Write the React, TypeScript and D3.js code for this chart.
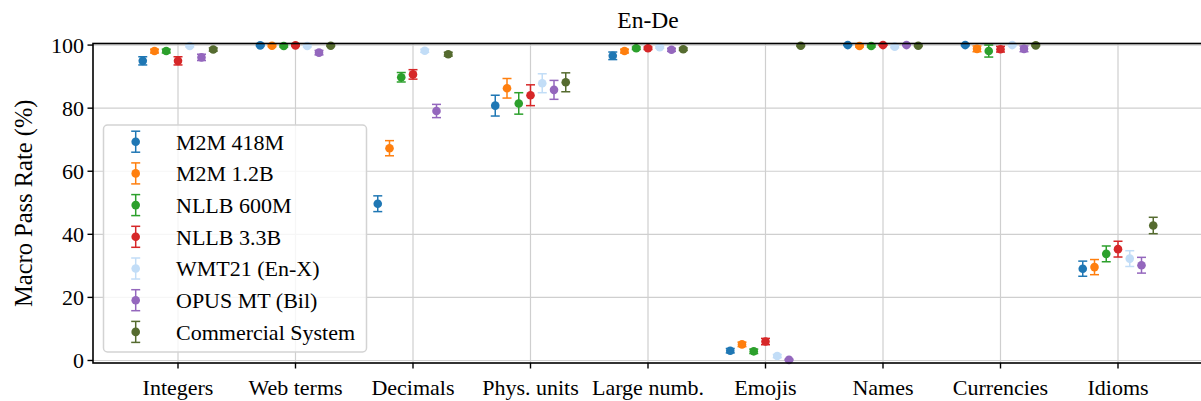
import React from "react";
import * as d3 from "d3";

const categories = ["Integers", "Web terms", "Decimals", "Phys. units", "Large numb.", "Emojis", "Names", "Currencies", "Idioms"];
const seriesNames = ["M2M 418M", "M2M 1.2B", "NLLB 600M", "NLLB 3.3B", "WMT21 (En-X)", "OPUS MT (Bil)", "Commercial System"];
const seriesColors = ["#1f77b4", "#ff7f0e", "#2ca02c", "#d62728", "#c2ddf7", "#9467bd", "#556b2f"];

const m2m418 = [95.0, 99.9, 49.7, 80.8, 96.6, 3.1, 100, 100, 29.1];
const m2m418Err = [1.3, 0.2, 2.5, 3.3, 1.2, 0.7, 0.1, 0.2, 2.4];
const m2m12 = [98.1, 99.8, 67.3, 86.3, 98.1, 5.1, 99.7, 98.8, 29.6];
const m2m12Err = [0.6, 0.3, 2.4, 3.1, 0.6, 0.7, 0.3, 0.9, 2.4];
const nllb600 = [98.1, 99.7, 89.8, 81.5, 99.0, 2.9, 99.7, 98.1, 33.8];
const nllb600Err = [0.6, 0.3, 1.5, 3.4, 0.4, 0.7, 0.3, 1.9, 2.5];
const nllb33 = [95.0, 99.9, 90.7, 84.1, 99.0, 6.0, 100, 98.7, 35.3];
const nllb33Err = [1.3, 0.2, 1.5, 3.3, 0.4, 1.0, 0.1, 0.9, 2.5];
const wmt21 = [99.7, 99.7, 98.2, 87.9, 99.3, 1.4, 99.5, 100, 32.3];
const wmt21Err = [0.3, 0.3, 0.5, 3.0, 0.3, 0.5, 0.3, 0.2, 2.5];
const opus = [96.1, 97.6, 79.1, 85.8, 98.5, 0.2, 100, 98.8, 30.2];
const opusErr = [1.0, 0.7, 2.1, 3.0, 0.5, 0.2, 0.1, 0.9, 2.5];
const commercial = [98.6, 99.8, 97.1, 88.2, 98.7, 99.8, 99.8, 99.9, 42.8];
const commercialErr = [0.5, 0.2, 0.6, 3.0, 0.4, 0.2, 0.2, 0.2, 2.6];

const yTicks = [0, 20, 40, 60, 80, 100];

const seriesValues = [m2m418, m2m12, nllb600, nllb33, wmt21, opus, commercial];
const seriesErrors = [m2m418Err, m2m12Err, nllb600Err, nllb33Err, wmt21Err, opusErr, commercialErr];

const W = 1201;
const H = 401;
const L = 93;
const R = 1203;
const T = 43.5;
const B = 363;
const FONT = "'Liberation Serif', 'Times New Roman', serif";

export default function App() {
  const x = d3.scaleLinear().domain([-0.7234, 8.7234]).range([L, R]);
  const y = d3.scaleLinear().domain([-0.8, 100.5]).range([B, T]);
  const offset = 0.1;
  const r = 4.3;
  const cap = 4.5;
  const gridColor = "#cfcfcf";

  const legX = 103.5;
  const legY = 125;
  const legW = 263;
  const legH = 227;
  const legRow = 31.7;

  return (
    <svg width={W} height={H} style={{ position: "absolute", left: 0, top: 0, background: "#fff" }} fontFamily={FONT}>
      <rect x={0} y={0} width={W} height={H} fill="#fff" />
      {/* gridlines */}
      {categories.map((c, i) => (
        <line key={"gx" + c} x1={x(i)} x2={x(i)} y1={T} y2={B} stroke={gridColor} strokeWidth={1.2} />
      ))}
      {yTicks.map((t) => (
        <line key={"gy" + t} x1={L} x2={R} y1={y(t)} y2={y(t)} stroke={gridColor} strokeWidth={1.2} />
      ))}
      {/* series */}
      {seriesValues.map((vals, s) => (
        <g key={seriesNames[s]} stroke={seriesColors[s]} fill={seriesColors[s]}>
          {vals.map((v, i) => {
            const cx = x(i + (s - 3) * offset);
            const e = seriesErrors[s][i];
            const y1 = y(v - e);
            const y2 = y(v + e);
            return (
              <g key={i}>
                <line x1={cx} x2={cx} y1={y1} y2={y2} strokeWidth={1.5} />
                <line x1={cx - cap} x2={cx + cap} y1={y1} y2={y1} strokeWidth={1.5} />
                <line x1={cx - cap} x2={cx + cap} y1={y2} y2={y2} strokeWidth={1.5} />
                <circle cx={cx} cy={y(v)} r={r} stroke="none" />
              </g>
            );
          })}
        </g>
      ))}
      {/* spines */}
      <rect x={L} y={T} width={R - L} height={B - T} fill="none" stroke="#000" strokeWidth={1.6} />
      {/* y ticks */}
      {yTicks.map((t) => (
        <g key={"yt" + t}>
          <line x1={L - 5.5} x2={L} y1={y(t)} y2={y(t)} stroke="#000" strokeWidth={1.4} />
          <text x={L - 9} y={y(t)} dy="0.34em" textAnchor="end" fontSize={22} fill="#000">
            {t}
          </text>
        </g>
      ))}
      {/* x ticks */}
      {categories.map((c, i) => (
        <g key={"xt" + c}>
          <line x1={x(i)} x2={x(i)} y1={B} y2={B + 5.5} stroke="#000" strokeWidth={1.4} />
          <text x={x(i)} y={394.5} textAnchor="middle" fontSize={22} fill="#000">
            {c}
          </text>
        </g>
      ))}
      {/* title */}
      <text x={(L + R) / 2} y={28} textAnchor="middle" fontSize={23.5} fill="#000">
        En-De
      </text>
      {/* y label */}
      <text transform={`translate(32,${(T + B) / 2}) rotate(-90)`} textAnchor="middle" fontSize={24.5} fill="#000">
        Macro Pass Rate (%)
      </text>
      {/* legend */}
      <rect x={legX} y={legY} width={legW} height={legH} rx={4} ry={4} fill="#fff" fillOpacity={0.8} stroke="#d3d3d3" strokeWidth={1.5} />
      {seriesNames.map((n, s) => {
        const cy = 141.7 + s * legRow;
        const mx = 135.7;
        return (
          <g key={"lg" + n}>
            <g stroke={seriesColors[s]} fill={seriesColors[s]}>
              <line x1={mx} x2={mx} y1={cy - 10.5} y2={cy + 10.5} strokeWidth={1.5} />
              <line x1={mx - cap} x2={mx + cap} y1={cy - 10.5} y2={cy - 10.5} strokeWidth={1.5} />
              <line x1={mx - cap} x2={mx + cap} y1={cy + 10.5} y2={cy + 10.5} strokeWidth={1.5} />
              <circle cx={mx} cy={cy} r={r} stroke="none" />
            </g>
            <text x={176} y={cy} dy="0.36em" fontSize={22} fill="#000">
              {n}
            </text>
          </g>
        );
      })}
    </svg>
  );
}
